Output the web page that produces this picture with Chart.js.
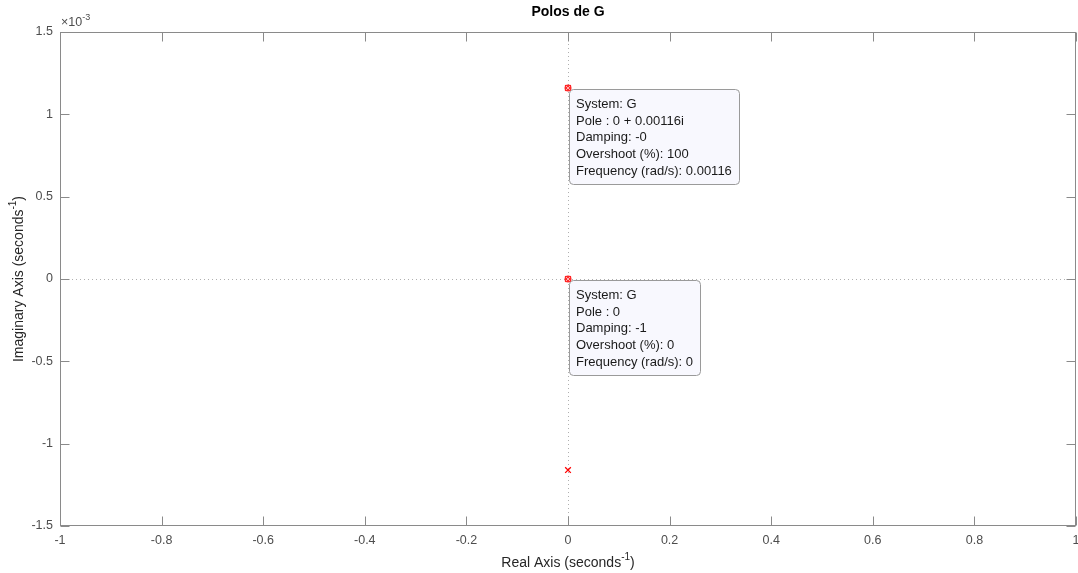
<!DOCTYPE html>
<html>
<head>
<meta charset="utf-8">
<script src="https://cdn.jsdelivr.net/npm/chart.js@4/dist/chart.umd.min.js"></script>
<style>
  html, body { margin: 0; padding: 0; background: #ffffff; }
  #wrap { width: 1078px; height: 573px; position: relative; }
</style>
</head>
<body>
<div id="wrap"><canvas id="c" width="1078" height="573"></canvas></div>
<script>
// ---- data ----
const chartTitle = "Polos de G";
const poleReal = [0, 0, 0];
const poleImag = [0.00116, 0, -0.00116];
const xTickValues = [-1, -0.8, -0.6, -0.4, -0.2, 0, 0.2, 0.4, 0.6, 0.8, 1];
const xTickLabels = ["-1", "-0.8", "-0.6", "-0.4", "-0.2", "0", "0.2", "0.4", "0.6", "0.8", "1"];
const yTickValues = [-0.0015, -0.001, -0.0005, 0, 0.0005, 0.001, 0.0015];
const yTickLabels = ["-1.5", "-1", "-0.5", "0", "0.5", "1", "1.5"];
const yExponent = -3;
const tipPoleIndex = [0, 1];
const tipTexts = [
  ["System: G", "Pole : 0 + 0.00116i", "Damping: -0", "Overshoot (%): 100", "Frequency (rad/s): 0.00116"],
  ["System: G", "Pole : 0", "Damping: -1", "Overshoot (%): 0", "Frequency (rad/s): 0"]
];
const xAxisLabel = ["Real Axis (seconds", "-1", ")"];
const yAxisLabel = ["Imaginary Axis (seconds", "-1", ")"];

const FONT = "'Liberation Sans', Arial, Helvetica, sans-serif";
const AXIS_COLOR = "#262626";
const TICK_COLOR = "#4d4d4d";

function drawSupText(ctx, parts, cx, cy, size, color) {
  ctx.save();
  ctx.fillStyle = color;
  ctx.textBaseline = "middle";
  ctx.textAlign = "left";
  const big = size + "px " + FONT;
  const small = Math.round(size * 0.72) + "px " + FONT;
  ctx.font = big; const w0 = ctx.measureText(parts[0]).width;
  ctx.font = small; const w1 = ctx.measureText(parts[1]).width;
  ctx.font = big; const w2 = ctx.measureText(parts[2]).width;
  let x = cx - (w0 + w1 + w2) / 2;
  ctx.font = big; ctx.fillText(parts[0], x, cy); x += w0;
  ctx.font = small; ctx.fillText(parts[1], x, cy - size * 0.42); x += w1;
  ctx.font = big; ctx.fillText(parts[2], x, cy);
  ctx.restore();
}

const decorPlugin = {
  id: "decor",
  beforeDatasetsDraw(chart) {
    const ctx = chart.ctx, a = chart.chartArea;
    const xs = chart.scales.x, ys = chart.scales.y;
    ctx.save();
    ctx.beginPath();
    ctx.rect(a.left, a.top, a.right - a.left, a.bottom - a.top);
    ctx.clip();
    ctx.strokeStyle = "#b0b0b0";
    ctx.lineWidth = 1;
    ctx.setLineDash([1, 3]);
    const x0 = Math.round(xs.getPixelForValue(0)) + 0.5;
    const y0 = Math.round(ys.getPixelForValue(0)) + 0.5;
    ctx.beginPath(); ctx.moveTo(x0, a.top); ctx.lineTo(x0, a.bottom); ctx.stroke();
    ctx.beginPath(); ctx.moveTo(a.left, y0); ctx.lineTo(a.right, y0); ctx.stroke();
    ctx.restore();
  },
  afterDatasetsDraw(chart) {
    const ctx = chart.ctx, a = chart.chartArea;
    const xs = chart.scales.x, ys = chart.scales.y;
    ctx.save();
    // box
    ctx.strokeStyle = "#8a8a8a";
    ctx.lineWidth = 1;
    const L = Math.round(a.left) + 0.5, R = Math.round(a.right) - 0.5;
    const T = Math.round(a.top) + 0.5, B = Math.round(a.bottom) - 0.5;
    ctx.strokeRect(L, T, R - L, B - T);
    // inward ticks
    const tl = 9;
    ctx.beginPath();
    xTickValues.forEach(v => {
      const px = Math.round(xs.getPixelForValue(v)) + 0.5;
      ctx.moveTo(px, B); ctx.lineTo(px, B - tl);
      ctx.moveTo(px, T); ctx.lineTo(px, T + tl);
    });
    yTickValues.forEach(v => {
      const py = Math.round(ys.getPixelForValue(v)) + 0.5;
      ctx.moveTo(L, py); ctx.lineTo(L + tl, py);
      ctx.moveTo(R, py); ctx.lineTo(R - tl, py);
    });
    ctx.stroke();
    // tick labels
    ctx.fillStyle = TICK_COLOR;
    ctx.font = "12.5px " + FONT;
    ctx.textBaseline = "middle";
    ctx.textAlign = "center";
    xTickValues.forEach((v, i) => ctx.fillText(xTickLabels[i], xs.getPixelForValue(v), a.bottom + 15));
    ctx.textAlign = "right";
    yTickValues.forEach((v, i) => ctx.fillText(yTickLabels[i], a.left - 7, ys.getPixelForValue(v)));
    ctx.restore();

    // data tips
    tipPoleIndex.forEach((pi, k) => {
      const px = xs.getPixelForValue(poleReal[pi]);
      const py = ys.getPixelForValue(poleImag[pi]);
      const lines = tipTexts[k];
      ctx.save();
      ctx.font = "13px " + FONT;
      let w = 0;
      lines.forEach(s => { w = Math.max(w, ctx.measureText(s).width); });
      const bx = Math.round(px) + 1.5, by = Math.round(py) + 1.5;
      const bw = Math.round(w + 14), bh = 95;
      const r = 4;
      ctx.beginPath();
      ctx.moveTo(bx + r, by);
      ctx.lineTo(bx + bw - r, by); ctx.quadraticCurveTo(bx + bw, by, bx + bw, by + r);
      ctx.lineTo(bx + bw, by + bh - r); ctx.quadraticCurveTo(bx + bw, by + bh, bx + bw - r, by + bh);
      ctx.lineTo(bx + r, by + bh); ctx.quadraticCurveTo(bx, by + bh, bx, by + bh - r);
      ctx.lineTo(bx, by + r); ctx.quadraticCurveTo(bx, by, bx + r, by);
      ctx.closePath();
      ctx.fillStyle = "#f8f8fe";
      ctx.fill();
      ctx.strokeStyle = "#9a9a9a";
      ctx.lineWidth = 1;
      ctx.stroke();
      ctx.fillStyle = "#1a1a1a";
      ctx.textBaseline = "middle";
      ctx.textAlign = "left";
      lines.forEach((s, i) => ctx.fillText(s, bx + 6.5, by + 15 + i * 16.7));
      // tip marker
      ctx.beginPath();
      ctx.arc(px, py, 3.5, 0, Math.PI * 2);
      ctx.fillStyle = "#ff2a2a";
      ctx.fill();
      ctx.strokeStyle = "#ffb0b0";
      ctx.lineWidth = 1;
      ctx.beginPath();
      ctx.moveTo(px - 2, py - 2); ctx.lineTo(px + 2, py + 2);
      ctx.moveTo(px + 2, py - 2); ctx.lineTo(px - 2, py + 2);
      ctx.stroke();
      ctx.restore();
    });

    // title
    ctx.save();
    ctx.fillStyle = "#000000";
    ctx.font = "bold 14px " + FONT;
    ctx.textAlign = "center";
    ctx.textBaseline = "middle";
    ctx.fillText(chartTitle, (a.left + a.right) / 2, 12);
    ctx.restore();

    // exponent label
    ctx.save();
    ctx.fillStyle = TICK_COLOR;
    ctx.textBaseline = "middle";
    ctx.textAlign = "left";
    ctx.font = "12.5px " + FONT;
    const ex = a.left + 1, ey = a.top - 9;
    ctx.fillText("\u00d710", ex, ey);
    const ww = ctx.measureText("\u00d710").width;
    ctx.font = "9px " + FONT;
    ctx.fillText(String(yExponent), ex + ww, ey - 5);
    ctx.restore();

    // axis titles
    drawSupText(ctx, xAxisLabel, (a.left + a.right) / 2, 563, 14, AXIS_COLOR);
    ctx.save();
    ctx.translate(19, (a.top + a.bottom) / 2);
    ctx.rotate(-Math.PI / 2);
    drawSupText(ctx, yAxisLabel, 0, 0, 14, AXIS_COLOR);
    ctx.restore();
  }
};

new Chart(document.getElementById("c"), {
  type: "scatter",
  data: {
    datasets: [{
      label: "G",
      data: poleReal.map((re, i) => ({ x: re, y: poleImag[i] })),
      pointStyle: "crossRot",
      pointRadius: 4,
      pointBorderWidth: 1.3,
      borderColor: "#ff0000",
      backgroundColor: "#ff0000",
      showLine: false
    }]
  },
  options: {
    responsive: false,
    animation: false,
    events: [],
    layout: { autoPadding: false, padding: { top: 32, right: 2, bottom: 0, left: 0 } },
    plugins: { legend: { display: false }, tooltip: { enabled: false }, title: { display: false } },
    scales: {
      x: {
        type: "linear",
        min: -1, max: 1,
        afterFit(s) { s.height = 47; },
        grid: { display: false, drawTicks: false },
        border: { display: false },
        ticks: { display: false }
      },
      y: {
        type: "linear",
        min: -0.0015, max: 0.0015,
        afterFit(s) { s.width = 60; },
        grid: { display: false, drawTicks: false },
        border: { display: false },
        ticks: { display: false }
      }
    }
  },
  plugins: [decorPlugin]
});
</script>
</body>
</html>
